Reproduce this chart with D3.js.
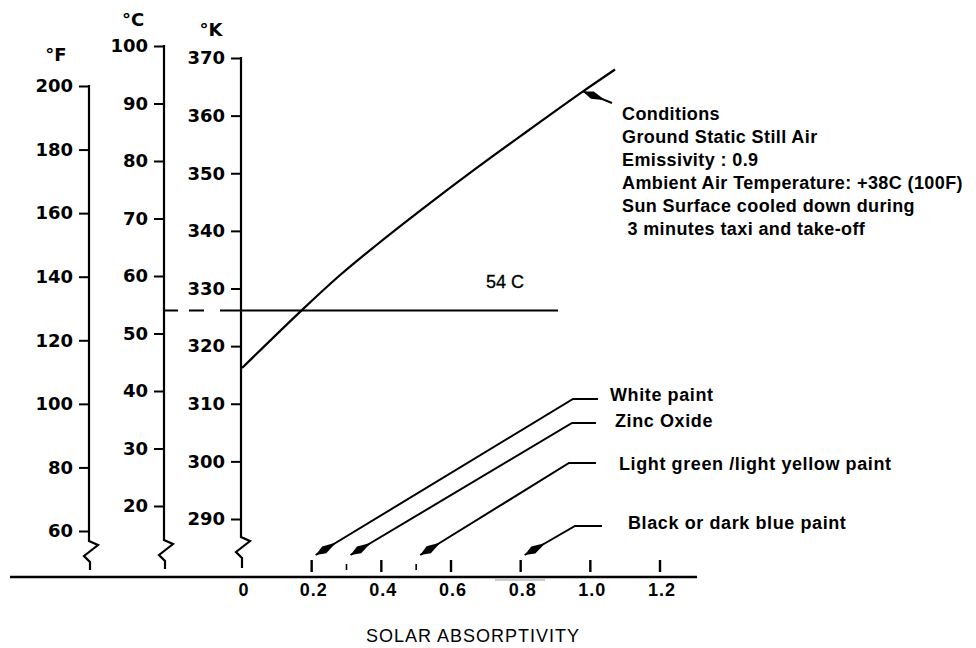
<!DOCTYPE html>
<html><head><meta charset="utf-8">
<script src="https://cdn.jsdelivr.net/npm/d3@7"></script>
<style>body{margin:0;background:#fff}svg{display:block}text{white-space:pre}</style>
</head><body>
<svg id="chart" width="976" height="648"></svg>
<script>
// ---------- data ----------
const fahrenheitTicks = [60, 80, 100, 120, 140, 160, 180, 200];
const celsiusTicks = [20, 30, 40, 50, 60, 70, 80, 90, 100];
const kelvinTicks = [290, 300, 310, 320, 330, 340, 350, 360, 370];
const unitLabels = ["°F", "°C", "°K"];
const absorptivityTicks = [0, 0.2, 0.4, 0.6, 0.8, 1.0, 1.2];
const absorptivityTickLabels = ["0", "0.2", "0.4", "0.6", "0.8", "1.0", "1.2"];
const minorAbsorptivityTicks = [0.3, 0.5];
const xAxisTitle = "SOLAR ABSORPTIVITY";
const curveAbsorptivity = [0, 0.178, 0.281, 0.379, 0.52, 0.669, 0.81, 0.979, 1.071];
const curveKelvin = [316.2, 326.6, 332.3, 337.2, 343.9, 350.7, 356.9, 364.2, 368.0];
const limitCelsius = 54;
const limitLabel = "54 C";
const paintNames = ["White paint", "Zinc Oxide", "Light green /light yellow paint", "Black or dark blue paint"];
const paintAbsorptivity = [0.2, 0.3, 0.5, 0.8];
const conditionLines = ["Conditions", "Ground Static Still Air", "Emissivity : 0.9",
  "Ambient Air Temperature: +38C (100F)", "Sun Surface cooled down during", " 3 minutes taxi and take-off"];
const conditionPointIndex = 7;

// ---------- layout ----------
const svg = d3.select("#chart");
svg.append("rect").attr("width", 976).attr("height", 648).attr("fill", "#fff");

const yF = d3.scaleLinear().domain([60, 200]).range([531, 86]);
const yC = d3.scaleLinear().domain([20, 100]).range([506, 46]);
const yK = d3.scaleLinear().domain([290, 370]).range([519, 58]);
const x = d3.scaleLinear().domain([0, 1.2]).range([242, 660]);

const sansBold = "'Liberation Sans', Arial, sans-serif";
const wideBold = "'DejaVu Sans', sans-serif";

// baseline
const baseY = 577;
svg.append("line").attr("x1", 10).attr("x2", 697).attr("y1", baseY).attr("y2", baseY)
  .attr("stroke", "#000").attr("stroke-width", 2.5);
svg.append("line").attr("x1", 495).attr("x2", 545).attr("y1", 580).attr("y2", 580)
  .attr("stroke", "#999").attr("stroke-width", 1.2);

// temperature axes
const axesSpec = [
  {scale: yF, ticks: fahrenheitTicks, ax: 89, zig: 541, bottom: 570, unit: unitLabels[0], ux: 56, uy: 61},
  {scale: yC, ticks: celsiusTicks, ax: 164, zig: 540, bottom: 569, unit: unitLabels[1], ux: 133, uy: 26},
  {scale: yK, ticks: kelvinTicks, ax: 241, zig: 537, bottom: 568, unit: unitLabels[2], ux: 211, uy: 36}
];
axesSpec.forEach(a => {
  const g = svg.append("g").attr("transform", `translate(${a.ax},0)`)
    .call(d3.axisLeft(a.scale).tickValues(a.ticks).tickSize(10).tickPadding(6).tickSizeOuter(0));
  g.select(".domain").remove();
  g.selectAll(".tick line").attr("stroke", "#000").attr("stroke-width", 2);
  g.selectAll(".tick text").attr("fill", "#000")
    .style("font-family", wideBold).style("font-weight", "bold").style("font-size", "18px");
  const top = a.scale(d3.max(a.ticks));
  g.append("path")
    .attr("d", `M0,${top - 1}V${a.zig}l9,4l-14,11l6,6V${a.bottom}`)
    .attr("fill", "none").attr("stroke", "#000").attr("stroke-width", 2.2);
  svg.append("text").attr("x", a.ux).attr("y", a.uy).attr("text-anchor", "middle")
    .style("font-family", wideBold).style("font-weight", "bold").style("font-size", "18px")
    .text(a.unit);
});

// absorptivity ticks and labels
svg.selectAll(".xtick").data(absorptivityTicks.filter(d => d > 0)).enter().append("line")
  .attr("x1", d => x(d)).attr("x2", d => x(d)).attr("y1", 560).attr("y2", 572)
  .attr("stroke", "#000").attr("stroke-width", 2.4);
svg.selectAll(".xminor").data(minorAbsorptivityTicks).enter().append("line")
  .attr("x1", d => x(d)).attr("x2", d => x(d)).attr("y1", 564).attr("y2", 570)
  .attr("stroke", "#000").attr("stroke-width", 1.6);
svg.selectAll(".xlabel").data(absorptivityTicks).enter().append("text")
  .attr("x", d => x(d) + 2).attr("y", 596).attr("text-anchor", "middle")
  .style("font-family", sansBold).style("font-weight", "bold").style("font-size", "18px")
  .style("letter-spacing", "1px")
  .text((d, i) => absorptivityTickLabels[i]);
svg.append("text").attr("x", 473).attr("y", 642).attr("text-anchor", "middle")
  .style("font-family", sansBold).style("font-size", "18px").style("letter-spacing", "1px")
  .text(xAxisTitle);

// 54 C limit line
const yLim = yC(limitCelsius);
svg.append("line").attr("x1", 164).attr("x2", 220).attr("y1", yLim).attr("y2", yLim)
  .attr("stroke", "#000").attr("stroke-width", 2).attr("stroke-dasharray", "14,11,15,17");
svg.append("line").attr("x1", 220).attr("x2", 558).attr("y1", yLim).attr("y2", yLim)
  .attr("stroke", "#000").attr("stroke-width", 2);
svg.append("text").attr("x", 505).attr("y", 288).attr("text-anchor", "middle")
  .style("font-family", sansBold).style("font-size", "18px").style("stroke", "#000")
  .style("stroke-width", "0.3px").text(limitLabel);

// temperature curve
const pts = curveAbsorptivity.map((a, i) => [x(a), yK(curveKelvin[i])]);
svg.append("path").attr("d", d3.line().curve(d3.curveCatmullRom.alpha(0.5))(pts))
  .attr("fill", "none").attr("stroke", "#000").attr("stroke-width", 2.2);

// spindle arrowhead
function arrowHead(tx, ty, fx, fy) {
  const dx = fx - tx, dy = fy - ty, len = Math.hypot(dx, dy);
  const ux = dx / len, uy = dy / len, nx = -uy, ny = ux;
  const L1 = 10, L2 = 24, w = 4;
  const p = [[tx, ty], [tx + ux * L1 + nx * w, ty + uy * L1 + ny * w],
             [tx + ux * L2, ty + uy * L2], [tx + ux * L1 - nx * w, ty + uy * L1 - ny * w]];
  svg.append("path").attr("d", "M" + p.map(q => q.join(",")).join("L") + "Z").attr("fill", "#000");
}

// conditions annotation
const cp = pts[conditionPointIndex];
svg.append("line").attr("x1", cp[0]).attr("y1", cp[1]).attr("x2", 612).attr("y2", 103)
  .attr("stroke", "#000").attr("stroke-width", 2);
arrowHead(cp[0], cp[1], 612, 103);
svg.selectAll(".cond").data(conditionLines).enter().append("text")
  .attr("x", 622).attr("y", (d, i) => 120 + i * 23)
  .style("font-family", sansBold).style("font-weight", "bold").style("font-size", "18px")
  .style("letter-spacing", "0.4px")
  .text(d => d);

// paint leaders
const paintElbow = [[573, 399], [572, 423], [569, 463], [575, 526]];
const paintEnd = [598, 596, 596, 602];
const paintTextX = [610, 615, 619, 628];
const paintTextY = [401, 427, 470, 529];
paintNames.forEach((name, i) => {
  const tx = x(paintAbsorptivity[i]) + 4, ty = 555;
  const [ex, ey] = paintElbow[i];
  svg.append("path").attr("d", `M${tx},${ty}L${ex},${ey}H${paintEnd[i]}`)
    .attr("fill", "none").attr("stroke", "#000").attr("stroke-width", 2);
  arrowHead(tx, ty, ex, ey);
  svg.append("text").attr("x", paintTextX[i]).attr("y", paintTextY[i])
    .style("font-family", sansBold).style("font-weight", "bold").style("font-size", "18px")
    .style("letter-spacing", "0.6px").text(name);
});
</script>
</body></html>
